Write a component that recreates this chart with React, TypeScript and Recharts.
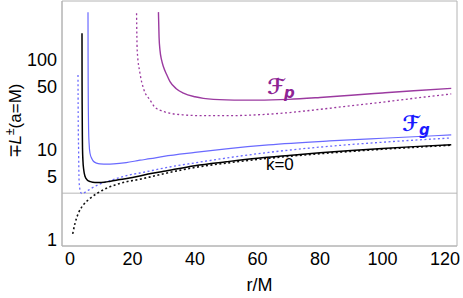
import { LineChart, Line, XAxis, YAxis, ReferenceLine, ReferenceDot } from 'recharts'

// axis ticks
const xTicks = [0, 20, 40, 60, 80, 100, 120]
const xMinorTicks = [5, 10, 15, 25, 30, 35, 45, 50, 55, 65, 70, 75, 85, 90, 95, 105, 110, 115]
const yTicks = [1, 5, 10, 50, 100]
const yMinorTicks = [2, 3, 4, 6, 7, 8, 9, 20, 30, 40, 60, 70, 80, 90, 200, 300, 400]

// k=0 curves (black)
const blackSolidR = [3.84, 3.86, 3.9, 3.95, 4.0, 4.15, 4.4, 4.8, 5.5, 6.5, 8, 10, 13, 16, 20, 25, 30, 40, 50, 60, 70, 80, 90, 100, 110, 122]
const blackSolidL = [198, 60, 28, 15, 10.5, 7.5, 6.0, 5.1, 4.65, 4.45, 4.36, 4.36, 4.5, 4.7, 4.95, 5.4, 5.8, 6.7, 7.4, 8.1, 8.7, 9.3, 9.85, 10.4, 10.9, 11.45]
const blackDotR = [0.86, 1.6, 2.66, 4.26, 6.4, 9.06, 11.7, 14.4, 18.1, 22, 26, 30, 40, 50, 60, 70, 80, 90, 100, 110, 122]
const blackDotL = [1.17, 1.53, 1.98, 2.45, 2.9, 3.36, 3.76, 4.08, 4.44, 4.7, 5.05, 5.45, 6.4, 7.15, 7.85, 8.5, 9.1, 9.65, 10.2, 10.7, 11.3]

// F_g curves (blue)
const blueSolidR = [5.76, 5.78, 5.82, 5.87, 5.95, 6.1, 6.4, 7.0, 7.5, 8.5, 9.6, 12, 14, 18, 22.4, 25.6, 30, 40, 50, 63.5, 83, 100, 122]
const blueSolidL = [340, 120, 50, 28, 17, 12, 9.2, 8.0, 7.5, 7.15, 7.0, 6.95, 7.0, 7.25, 7.7, 8.0, 8.5, 9.4, 10.3, 11.4, 12.6, 13.5, 14.7]
const blueDotR = [2.56, 2.62, 2.75, 2.9, 3.2, 3.5, 3.74, 4.2, 5, 6.9, 9, 12.8, 19.2, 22.4, 30, 40, 63.5, 83, 100, 122]
const blueDotL = [68, 25, 10, 4.6, 3.6, 3.35, 3.28, 3.3, 3.42, 3.76, 4.1, 4.56, 5.3, 5.55, 6.3, 7.2, 9.4, 11.0, 12.2, 13.6]

// F_p curves (purple)
const purpleSolidR = [28.3, 28.5, 28.8, 29.3, 29.9, 31, 32, 34, 36.3, 40, 42.7, 50, 55, 60, 70, 80, 90, 100, 110, 122]
const purpleSolidL = [340, 180, 128, 100, 84, 68, 57.5, 48, 42.8, 39, 37.5, 36, 35.8, 35.8, 36.5, 38.3, 40.6, 43, 45.5, 48.4]
const purpleDotR = [21.3, 21.5, 22.4, 23.5, 25.6, 27.2, 29, 32, 36, 41.6, 52.2, 60, 70, 80, 90, 100, 110, 122]
const purpleDotL = [330, 128, 71, 48.4, 36, 29.8, 27.5, 25.6, 24.6, 24.1, 24.1, 24.6, 26, 28.3, 31, 34, 37.5, 42]

const grayLevel = 3.3

const zip = (r: number[], l: number[]) => r.map((x, i) => ({ r: x, v: l[i] }))

const xDomain = [-2.56, 123.84]
const yDomain = [0.858, 452]
const frame = '#b4b4b4'

const FText = ({ viewBox, color, sub }: any) => (
  <text x={viewBox.x} y={viewBox.y} fill={color} fontFamily="DejaVu Sans" fontWeight="bold" fontStyle="italic">
    <tspan fontSize={21}>ℱ</tspan>
    <tspan fontSize={15} dy={4}>{sub}</tspan>
  </text>
)

const YLabel = () => (
  <text transform="translate(21,121) rotate(-90)" textAnchor="middle" fontFamily="Liberation Sans" fontSize={17} fill="#000">
    <tspan>∓</tspan>
    <tspan fontStyle="italic">L</tspan>
    <tspan fontSize={12} dy={-7}>±</tspan>
    <tspan dy={7}>(a=M)</tspan>
  </text>
)

export default function App() {
  const tickFont = { fontSize: 18, fill: '#000', fontFamily: 'Liberation Sans' }
  return (
    <div style={{ position: 'absolute', left: 0, top: 0 }}>
      <LineChart width={463} height={298} margin={{ top: 1, right: 6, bottom: 0, left: 12 }}>
        <XAxis xAxisId={0} dataKey="r" type="number" domain={xDomain} allowDataOverflow ticks={xTicks} interval={0}
          tick={tickFont} tickLine={false} tickSize={0} tickMargin={6} height={52} stroke={frame}
          label={{ value: 'r/M', position: 'insideBottom', offset: 7, fontSize: 18, fill: '#000', fontFamily: 'Liberation Sans' }} />
        <XAxis xAxisId="bMaj" orientation="bottom" mirror type="number" domain={xDomain} allowDataOverflow ticks={xTicks} interval={0}
          tick={false} tickSize={5} height={1} stroke={frame} />
        <XAxis xAxisId="bMin" orientation="bottom" mirror type="number" domain={xDomain} allowDataOverflow ticks={xMinorTicks} interval={0}
          tick={false} tickSize={3} height={1} axisLine={false} stroke={frame} />
        <XAxis xAxisId="tMaj" orientation="top" mirror type="number" domain={xDomain} allowDataOverflow ticks={xTicks} interval={0}
          tick={false} tickSize={5} height={1} stroke={frame} />
        <XAxis xAxisId="tMin" orientation="top" mirror type="number" domain={xDomain} allowDataOverflow ticks={xMinorTicks} interval={0}
          tick={false} tickSize={3} height={1} axisLine={false} stroke={frame} />
        <YAxis yAxisId={0} type="number" scale="log" domain={yDomain} allowDataOverflow ticks={yTicks} interval={0}
          tick={tickFont} tickLine={false} tickSize={0} tickMargin={5} width={50} stroke={frame}
          label={<YLabel />} />
        <YAxis yAxisId="lMaj" orientation="left" mirror type="number" scale="log" domain={yDomain} allowDataOverflow ticks={yTicks} interval={0}
          tick={false} tickSize={5} width={1} stroke={frame} />
        <YAxis yAxisId="lMin" orientation="left" mirror type="number" scale="log" domain={yDomain} allowDataOverflow ticks={yMinorTicks} interval={0}
          tick={false} tickSize={3} width={1} axisLine={false} stroke={frame} />
        <YAxis yAxisId="rMaj" orientation="right" mirror type="number" scale="log" domain={yDomain} allowDataOverflow ticks={yTicks} interval={0}
          tick={false} tickSize={5} width={1} stroke={frame} />
        <YAxis yAxisId="rMin" orientation="right" mirror type="number" scale="log" domain={yDomain} allowDataOverflow ticks={yMinorTicks} interval={0}
          tick={false} tickSize={3} width={1} axisLine={false} stroke={frame} />

        <ReferenceLine y={grayLevel} stroke="#cfcfcf" strokeWidth={1.5} ifOverflow="hidden" />

        <Line data={zip(purpleDotR, purpleDotL)} dataKey="v" type="monotone" stroke="#9b3aa0" strokeWidth={1.3} strokeDasharray="2 2.5" dot={false} isAnimationActive={false} />
        <Line data={zip(purpleSolidR, purpleSolidL)} dataKey="v" type="monotone" stroke="#9b3aa0" strokeWidth={1.4} dot={false} isAnimationActive={false} />
        <Line data={zip(blueDotR, blueDotL)} dataKey="v" type="monotone" stroke="#6a6aff" strokeWidth={1.3} strokeDasharray="2 2.5" dot={false} isAnimationActive={false} />
        <Line data={zip(blueSolidR, blueSolidL)} dataKey="v" type="monotone" stroke="#6a6aff" strokeWidth={1.2} dot={false} isAnimationActive={false} />
        <Line data={zip(blackDotR, blackDotL)} dataKey="v" type="monotone" stroke="#111" strokeWidth={1.6} strokeDasharray="2 2.5" dot={false} isAnimationActive={false} />
        <Line data={zip(blackSolidR, blackSolidL)} dataKey="v" type="monotone" stroke="#000" strokeWidth={1.5} dot={false} isAnimationActive={false} />

        <ReferenceDot x={63.4} y={40.8} r={1} fill="none" stroke="none" label={(p: any) => <FText {...p} color="#8e2494" sub="p" />} />
        <ReferenceDot x={106.6} y={15.8} r={1} fill="none" stroke="none" label={(p: any) => <FText {...p} color="#1a1aff" sub="g" />} />
        <ReferenceDot x={63} y={5.85} r={1} fill="none" stroke="none"
          label={(p: any) => <text x={p.viewBox.x} y={p.viewBox.y} fontSize={17} fontFamily="Liberation Sans" fill="#000">k=0</text>} />
      </LineChart>
    </div>
  )
}
